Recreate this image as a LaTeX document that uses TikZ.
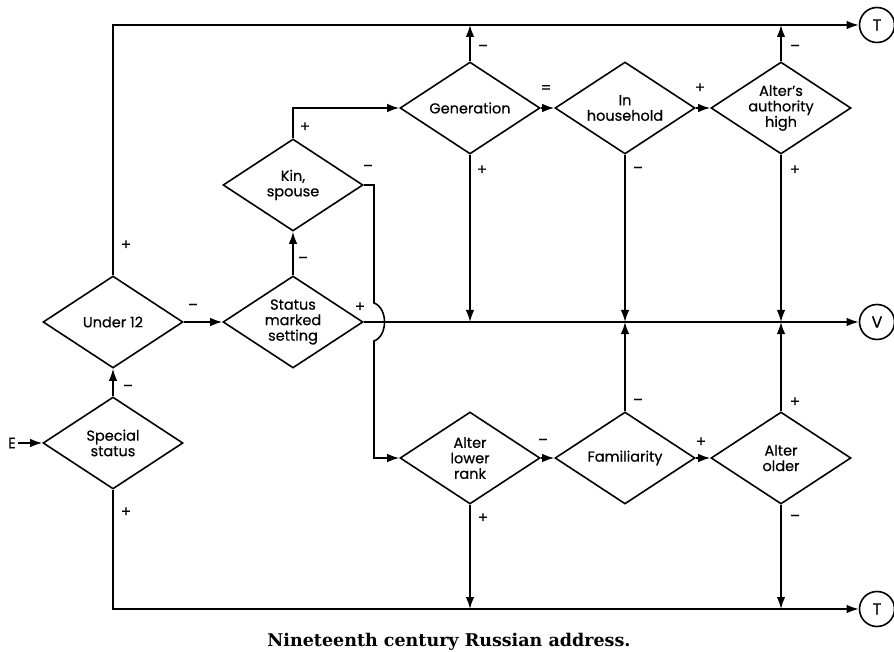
\documentclass[tikz,border=0pt]{standalone}
\usepackage{fontspec}
\setsansfont{Poppins}[FakeBold=0.5]
\newfontfamily\capfont{DejaVu Serif}
\usetikzlibrary{shapes.geometric,arrows.meta,calc}
\begin{document}
\begin{tikzpicture}[x=1pt,y=-1pt,
  line width=1.6pt,
  dia/.style={diamond, draw, minimum width=140pt, minimum height=92pt, inner sep=0pt},
  lbl/.style={font=\sffamily\fontsize{14.5}{15.5}\selectfont, align=center, inner sep=0pt},
  circ/.style={circle, draw, minimum size=35pt, inner sep=0pt, font=\sffamily\fontsize{16}{18}\selectfont},
  sgn/.style={font=\sffamily\fontsize{15}{16}\selectfont, inner sep=0pt},
  arr/.style={-{Latex[length=12pt,width=8.5pt]}}
]
\useasboundingbox (0,0) rectangle (894,652);

% diamonds
\node[dia, label={[lbl]center:Special\\status}] (sp) at (113,443) {};
\node[dia, label={[lbl]center:Under 12}] (u12) at (113,322) {};
\node[dia, label={[lbl]center:Status\\marked\\setting}] (sms) at (293,322) {};
\node[dia, label={[lbl]center:Kin,\\spouse}] (kin) at (293,185) {};
\node[dia, label={[lbl]center:Generation}] (gen) at (470,108) {};
\node[dia, label={[lbl]center:In\\household}] (hh) at (625,108) {};
\node[dia, label={[lbl]center:Alter's\\authority\\high}] (auth) at (781,108) {};
\node[dia, label={[lbl]center:Alter\\lower\\rank}] (alr) at (470,458) {};
\node[dia, label={[lbl]center:Familiarity}] (fam) at (625,458) {};
\node[dia, label={[lbl]center:Alter\\older}] (ao) at (781,458) {};

% terminals
\node[circ] (Tt) at (877,25) {T};
\node[circ] (V) at (877,322) {V};
\node[circ] (Tb) at (877,609) {T};
\node[font=\sffamily\fontsize{15}{16}\selectfont, inner sep=1pt] (E) at (12,443) {E};

% bump coordinates
\coordinate (bt) at (374,303);
\coordinate (bb) at (374,341);

% connectors
\draw[arr] (E) -- (sp.west);
\draw[arr] (sp.north) -- (u12.south);
\draw[arr] (sp.south) |- (Tb.west);
\draw[arr] (u12.north) |- (Tt.west);
\draw[arr] (u12.east) -- (sms.west);
\draw[arr] (sms.north) -- (kin.south);
\draw[arr] (sms.east) -- (V.west);
\draw[arr] (kin.north) |- (gen.west);
\draw[arr] (kin.east) -| (bt) .. controls +(14,5) and +(14,-5) .. (bb) -- (bb |- alr.west) -- (alr.west);
\draw[arr] (gen.north) -- (gen.north |- Tt.west);
\draw[arr] (gen.south) -- (gen.south |- V.west);
\draw[arr] (gen.east) -- (hh.west);
\draw[arr] (hh.south) -- (hh.south |- V.west);
\draw[arr] (hh.east) -- (auth.west);
\draw[arr] (auth.north) -- (auth.north |- Tt.west);
\draw[arr] (auth.south) -- (auth.south |- V.west);
\draw[arr] (alr.east) -- (fam.west);
\draw[arr] (alr.south) -- (alr.south |- Tb.west);
\draw[arr] (fam.north) -- (fam.north |- V.west);
\draw[arr] (fam.east) -- (ao.west);
\draw[arr] (ao.north) -- (ao.north |- V.west);
\draw[arr] (ao.south) -- (ao.south |- Tb.west);

% signs
\node[sgn] (s1) at (128,388) {–};
\node[sgn] (s2) at (126,512) {+};
\node[sgn] (s3) at (126,245) {+};
\node[sgn] (s4) at (193,307) {–};
\node[sgn] (s5) at (303,260) {–};
\node[sgn] (s6) at (360,307) {+};
\node[sgn] (s7) at (305,127) {+};
\node[sgn] (s8) at (368,168) {–};
\node[sgn] (s9) at (483,48) {–};
\node[sgn] (s10) at (482,170) {+};
\node[sgn] (s11) at (546,89) {=};
\node[sgn] (s12) at (638,170) {–};
\node[sgn] (s13) at (700,88) {+};
\node[sgn] (s14) at (795,48) {–};
\node[sgn] (s15) at (795,170) {+};
\node[sgn] (s16) at (543,442) {–};
\node[sgn] (s17) at (483,518) {+};
\node[sgn] (s18) at (638,402) {–};
\node[sgn] (s19) at (701,442) {+};
\node[sgn] (s20) at (795,402) {+};
\node[sgn] (s21) at (795,518) {–};

% caption
\node[font=\capfont\bfseries\fontsize{17.5}{20}\selectfont, anchor=base, inner sep=0pt] (cap) at (449,646) {Nineteenth century Russian address.};
\end{tikzpicture}
\end{document}
